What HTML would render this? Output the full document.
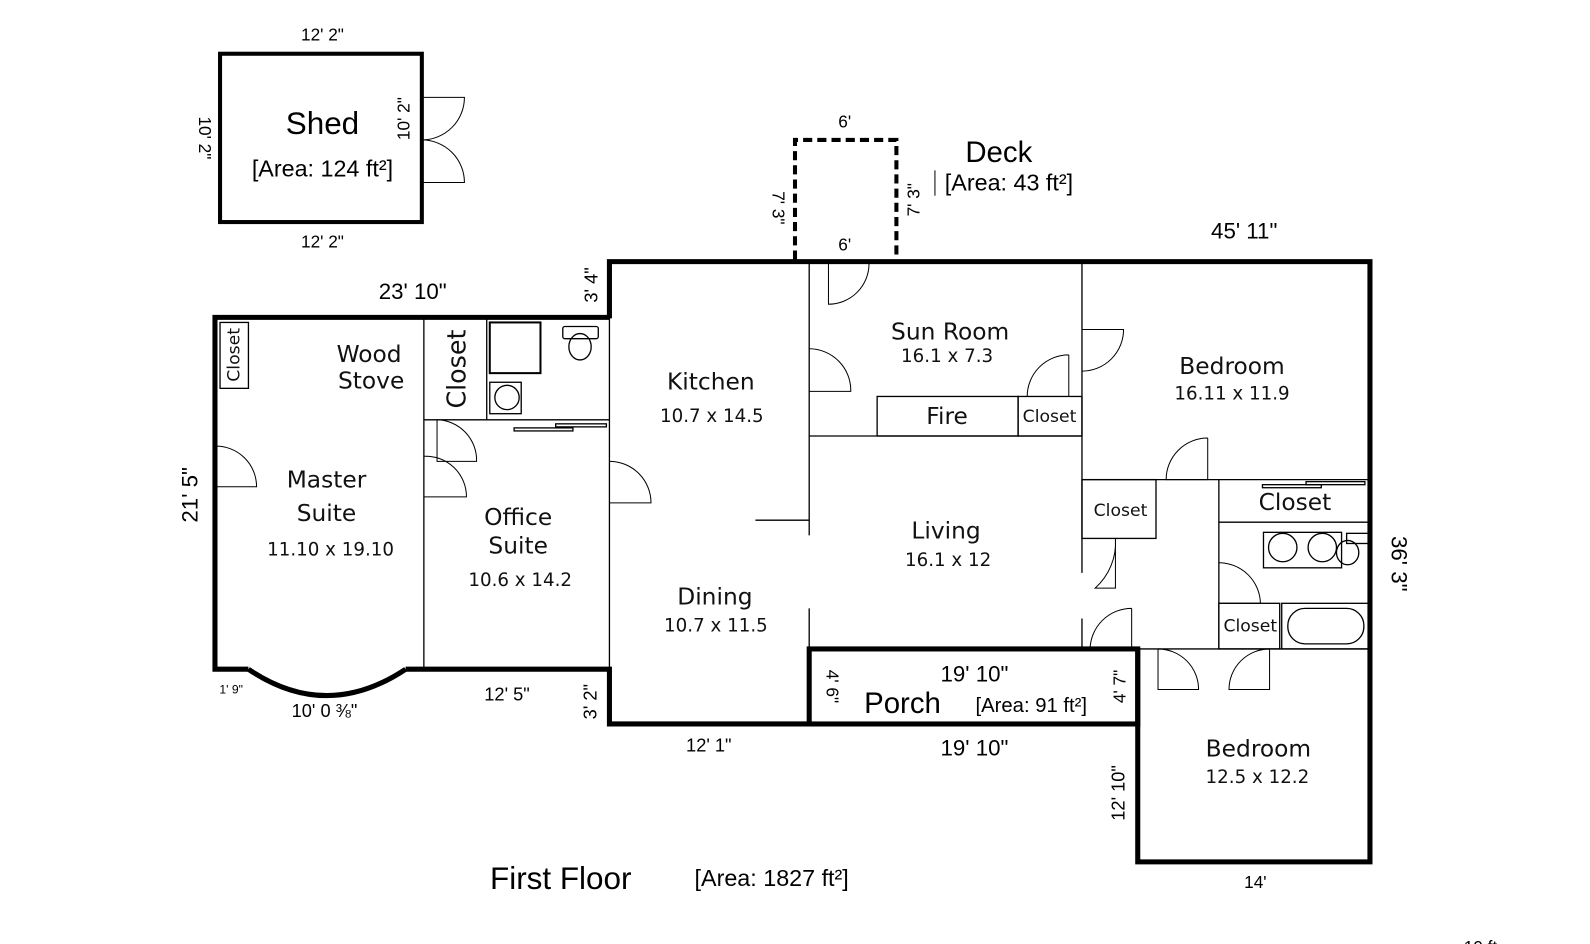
<!DOCTYPE html>
<html><head><meta charset="utf-8"><style>
html,body{margin:0;padding:0;background:#fff;}
svg{display:block;}
.d{font-family:"Liberation Sans",Arial,sans-serif;fill:#000;}
.r{font-family:"DejaVu Sans",Verdana,sans-serif;fill:#111;}
</style></head><body>
<svg width="1590" height="944" viewBox="0 0 1568 931" preserveAspectRatio="none" xmlns="http://www.w3.org/2000/svg">
<rect width="1568" height="931" fill="#fff"/>
<g fill="none" stroke="#000">
<rect x="217" y="53" width="199" height="166" stroke-width="4"/>
<g stroke-width="1">
<path d="M416 96 L458 96 A42 42 0 0 1 416 138"/>
<path d="M416 180 L458 180 A42 42 0 0 0 416 138"/>
</g>
<path d="M784 256 L784 138 L884 138 L884 256" stroke-width="4" stroke-dasharray="9,5"/>
<line x1="922" y1="168" x2="922" y2="193" stroke-width="1"/>
<g stroke-width="5" stroke-linejoin="miter">
<path d="M601 314 L601 258 L1351 258 L1351 850 L1122 850 L1122 640"/>
<path d="M601 313 L212 313 L212 660 L245 660"/>
<path d="M245 660 Q322 712 400 660"/>
<path d="M400 660 L601 660 L601 714 L798 714"/>
<rect x="798" y="640" width="324" height="74"/>
</g>
<g stroke-width="1.3">
<line x1="601" y1="314" x2="601" y2="660"/>
<line x1="418" y1="313" x2="418" y2="660"/>
<rect x="217" y="318" width="28" height="65"/>
<line x1="418" y1="414" x2="601" y2="414"/>
<line x1="480" y1="314" x2="480" y2="414"/>
<rect x="483" y="318" width="50" height="50" stroke-width="2"/>
<rect x="483" y="377" width="31" height="31"/>
<circle cx="500" cy="392" r="12"/>
<rect x="555" y="322" width="35" height="12" rx="2"/>
<ellipse cx="572" cy="342" rx="11" ry="13"/>
<rect x="507" y="422" width="58" height="3"/>
<rect x="548" y="418" width="50" height="3"/>
<line x1="798" y1="258" x2="798" y2="528"/>
<line x1="798" y1="600" x2="798" y2="640"/>
<line x1="745" y1="513" x2="798" y2="513"/>
<line x1="798" y1="430" x2="1067" y2="430"/>
<rect x="865" y="391" width="139" height="39"/>
<rect x="1004" y="391" width="63" height="39"/>
<line x1="1067" y1="258" x2="1067" y2="565"/>
<line x1="1067" y1="610" x2="1067" y2="640"/>
<line x1="1067" y1="473" x2="1351" y2="473"/>
<rect x="1067" y="473" width="73" height="58"/>
<line x1="1202" y1="473" x2="1202" y2="640"/>
<line x1="1202" y1="515" x2="1351" y2="515"/>
<rect x="1202" y="595" width="60" height="45"/>
<rect x="1264" y="595" width="87" height="45"/>
<rect x="1270" y="600" width="75" height="35" rx="17"/>
<rect x="1246" y="525" width="77" height="35"/>
<circle cx="1265" cy="540" r="14"/>
<circle cx="1304" cy="540" r="14"/>
<rect x="1328" y="526" width="22" height="10"/>
<ellipse cx="1329" cy="545" rx="11" ry="12"/>
<rect x="1245" y="478" width="58" height="3"/>
<rect x="1288" y="475" width="58" height="3"/>
<line x1="1122" y1="640" x2="1351" y2="640"/>
</g>
<g stroke-width="1">
<path d="M212 440 A40 40 0 0 1 253 480 L212 480"/>
<path d="M431 414 L431 455 L470 455 A40 40 0 0 0 431 414"/>
<path d="M418 450 A40 40 0 0 1 460 490 L418 490"/>
<path d="M601 455 A41 41 0 0 1 642 496 L601 496"/>
<path d="M817 260 L817 300 A40 40 0 0 0 857 260"/>
<path d="M798 344 A41 41 0 0 1 839 386 L798 386"/>
<path d="M1054 350 L1054 391 L1013 391 A41 41 0 0 1 1054 350"/>
<path d="M1067 325 L1108 325 A41 41 0 0 1 1067 366"/>
<path d="M1191 432 L1191 473 L1150 473 A41 41 0 0 1 1191 432"/>
<path d="M1100 531 L1100 580 L1080 580 A60 60 0 0 0 1100 531"/>
<path d="M1116 600 L1116 640 L1075 640 A41 41 0 0 1 1116 600"/>
<path d="M1202 555 A41 41 0 0 1 1243 595 L1202 595"/>
<path d="M1142 640 L1142 680 L1182 680 A40 40 0 0 0 1142 640"/>
<path d="M1252 640 L1252 680 L1212 680 A40 40 0 0 1 1252 640"/>
</g>
</g>
<g class="d" text-anchor="middle">
<text x="318" y="40" font-size="17">12' 2"</text>
<text x="318" y="244" font-size="17">12' 2"</text>
<text font-size="17" transform="translate(196,136) rotate(90)">10' 2"</text>
<text font-size="17" transform="translate(404,117) rotate(-90)">10' 2"</text>
<text x="318" y="132" font-size="31">Shed</text>
<text x="318" y="174" font-size="23">[Area: 124 ft²]</text>
<text x="833" y="126" font-size="17">6'</text>
<text x="833" y="247" font-size="17">6'</text>
<text font-size="17" transform="translate(762,205) rotate(90)">7' 3"</text>
<text font-size="17" transform="translate(907,197) rotate(-90)">7' 3"</text>
<text x="985" y="160" font-size="29">Deck</text>
<text x="995" y="188" font-size="23">[Area: 43 ft²]</text>
<text x="1227" y="235" font-size="22">45' 11"</text>
<text x="407" y="295" font-size="22">23' 10"</text>
<text font-size="18" transform="translate(589,281) rotate(-90)">3' 4"</text>
<text font-size="22" transform="translate(195,488) rotate(-90)">21' 5"</text>
<text font-size="22" transform="translate(1372,556) rotate(90)">36' 3"</text>
<text x="228" y="684" font-size="12">1' 9"</text>
<text x="320" y="707" font-size="18">10' 0 ⅜"</text>
<text x="500" y="691" font-size="18">12' 5"</text>
<text font-size="18" transform="translate(588,692) rotate(-90)">3' 2"</text>
<text x="699" y="741" font-size="18">12' 1"</text>
<text x="961" y="672" font-size="22">19' 10"</text>
<text x="961" y="745" font-size="22">19' 10"</text>
<text x="890" y="703" font-size="29">Porch</text>
<text x="1017" y="702" font-size="20">[Area: 91 ft²]</text>
<text font-size="17" transform="translate(815,677) rotate(90)">4' 6"</text>
<text font-size="17" transform="translate(1110,677) rotate(-90)">4' 7"</text>
<text font-size="18" transform="translate(1109,782) rotate(-90)">12' 10"</text>
<text x="1238" y="876" font-size="17">14'</text>
<text x="553" y="877" font-size="31">First Floor</text>
<text x="761" y="874" font-size="23">[Area: 1827 ft²]</text>
<text x="1460" y="940" font-size="17">10 ft</text>
</g>
<g class="r" text-anchor="middle">
<text font-size="17" transform="translate(236,350) rotate(-90)">Closet</text>
<text x="364" y="357" font-size="23">Wood</text>
<text x="366" y="383" font-size="23">Stove</text>
<text font-size="25" transform="translate(459,364) rotate(-90)">Closet</text>
<text x="322" y="481" font-size="23">Master</text>
<text x="322" y="514" font-size="23">Suite</text>
<text x="326" y="548" font-size="18">11.10 x 19.10</text>
<text x="511" y="518" font-size="23">Office</text>
<text x="511" y="546" font-size="23">Suite</text>
<text x="513" y="578" font-size="18">10.6 x 14.2</text>
<text x="701" y="384" font-size="23">Kitchen</text>
<text x="702" y="416" font-size="18">10.7 x 14.5</text>
<text x="705" y="596" font-size="23">Dining</text>
<text x="706" y="623" font-size="18">10.7 x 11.5</text>
<text x="937" y="335" font-size="23">Sun Room</text>
<text x="934" y="357" font-size="18">16.1 x 7.3</text>
<text x="934" y="418" font-size="23">Fire</text>
<text x="1035" y="416" font-size="17">Closet</text>
<text x="1215" y="369" font-size="23">Bedroom</text>
<text x="1215" y="394" font-size="18">16.11 x 11.9</text>
<text x="933" y="531" font-size="23">Living</text>
<text x="935" y="558" font-size="18">16.1 x 12</text>
<text x="1105" y="509" font-size="17">Closet</text>
<text x="1277" y="503" font-size="23">Closet</text>
<text x="1233" y="623" font-size="17">Closet</text>
<text x="1241" y="746" font-size="23">Bedroom</text>
<text x="1240" y="772" font-size="18">12.5 x 12.2</text>
</g>
</svg>
</body></html>
